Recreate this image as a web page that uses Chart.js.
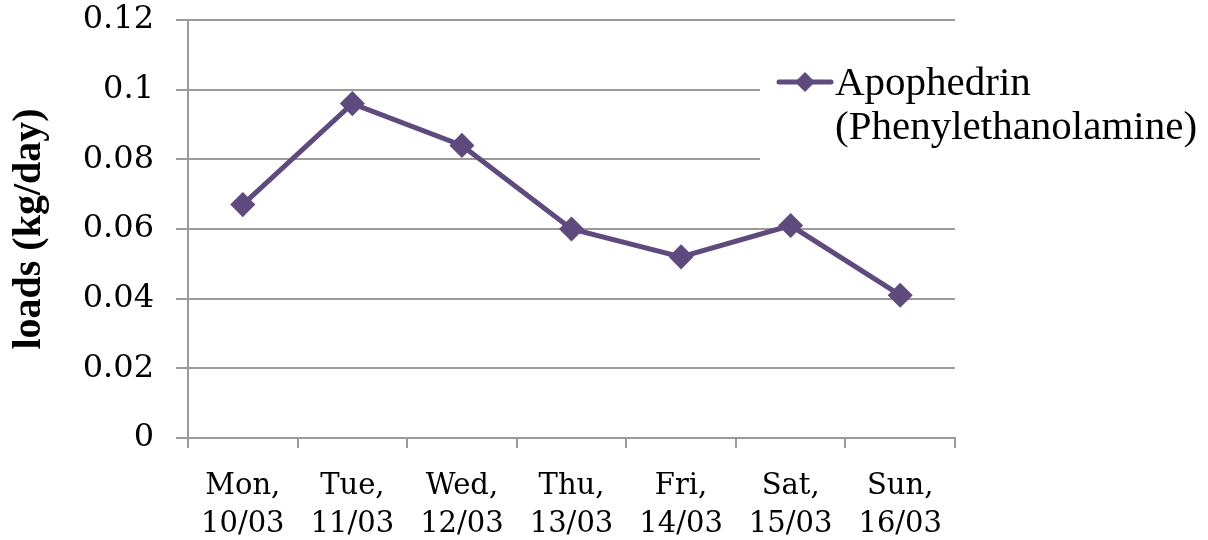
<!DOCTYPE html>
<html>
<head>
<meta charset="utf-8">
<script src="https://cdn.jsdelivr.net/npm/chart.js@4.4.1/dist/chart.umd.min.js"></script>
<style>
  html, body { margin: 0; padding: 0; background: #ffffff; }
  #wrap { width: 1208px; height: 540px; position: relative; }
</style>
</head>
<body>
<div id="wrap"><canvas id="loadsChart"></canvas></div>
<script>
const days = [
  ["Mon,", "10/03"],
  ["Tue,", "11/03"],
  ["Wed,", "12/03"],
  ["Thu,", "13/03"],
  ["Fri,", "14/03"],
  ["Sat,", "15/03"],
  ["Sun,", "16/03"]
];
const apophedrinLoads = [0.067, 0.096, 0.084, 0.060, 0.052, 0.061, 0.041];
const seriesLabel = ["Apophedrin", "(Phenylethanolamine)"];
const yTitle = "loads (kg/day)";

const LINE_COLOR = "#5e4a7d";
const GRID_COLOR = "#9a9a9a";
const TICK_FONT = "'DejaVu Serif', 'Liberation Serif', serif";
const TEXT_FONT = "'Liberation Serif', 'Times New Roman', serif";

// legend sits on top of the plot, over the gridlines
const overlayLegend = {
  id: "overlayLegend",
  beforeDatasetsDraw(chart) {
    const ctx = chart.ctx;
    ctx.save();
    ctx.fillStyle = "#ffffff";
    ctx.fillRect(760, 60, 200, 140);
    ctx.restore();
  },
  afterDraw(chart) {
    const ctx = chart.ctx;
    ctx.save();
    ctx.strokeStyle = LINE_COLOR;
    ctx.lineWidth = 5;
    ctx.lineCap = "round";
    ctx.beginPath();
    ctx.moveTo(779, 82);
    ctx.lineTo(831, 82);
    ctx.stroke();
    ctx.fillStyle = LINE_COLOR;
    ctx.beginPath();
    ctx.moveTo(805, 72);
    ctx.lineTo(815, 82);
    ctx.lineTo(805, 92);
    ctx.lineTo(795, 82);
    ctx.closePath();
    ctx.fill();
    ctx.fillStyle = "#000000";
    ctx.font = "41px " + TEXT_FONT;
    ctx.textBaseline = "alphabetic";
    ctx.fillText(seriesLabel[0], 835, 95);
    ctx.fillText(seriesLabel[1], 835, 139);
    ctx.restore();
  }
};

new Chart(document.getElementById("loadsChart"), {
  type: "line",
  data: {
    labels: days,
    datasets: [
      {
        label: seriesLabel.join(" "),
        data: apophedrinLoads,
        borderColor: LINE_COLOR,
        backgroundColor: LINE_COLOR,
        borderWidth: 5,
        pointStyle: "rectRot",
        pointRadius: 9,
        pointHoverRadius: 9,
        tension: 0
      }
    ]
  },
  options: {
    responsive: true,
    maintainAspectRatio: false,
    animation: false,
    layout: {
      padding: { top: 20, right: 253, left: 0, bottom: 0 }
    },
    plugins: {
      legend: { display: false },
      tooltip: { enabled: false }
    },
    scales: {
      x: {
        offset: true,
        grid: {
          offset: true,
          drawOnChartArea: false,
          color: GRID_COLOR,
          lineWidth: 2,
          tickLength: 10
        },
        border: { color: GRID_COLOR, width: 2 },
        ticks: {
          color: "#000000",
          font: { family: TICK_FONT, size: 29, lineHeight: 1.3 },
          padding: 20,
          maxRotation: 0
        },
        afterFit(scale) {
          scale.height = 102;
        }
      },
      y: {
        min: 0,
        max: 0.12,
        grid: {
          color: GRID_COLOR,
          lineWidth: 2,
          tickLength: 12
        },
        border: { color: GRID_COLOR, width: 2 },
        ticks: {
          stepSize: 0.02,
          color: "#000000",
          font: { family: TICK_FONT, size: 32 },
          padding: 22,
          callback: (value) => String(Number(value.toFixed(2)))
        },
        title: {
          display: true,
          text: yTitle,
          color: "#000000",
          font: { family: TEXT_FONT, size: 40, weight: "bold" },
          padding: { top: 6, bottom: 0 }
        },
        afterFit(scale) {
          scale.width = 188;
          scale.paddingTop = 0;
          scale.paddingBottom = 0;
        }
      }
    }
  },
  plugins: [overlayLegend]
});
</script>
</body>
</html>
